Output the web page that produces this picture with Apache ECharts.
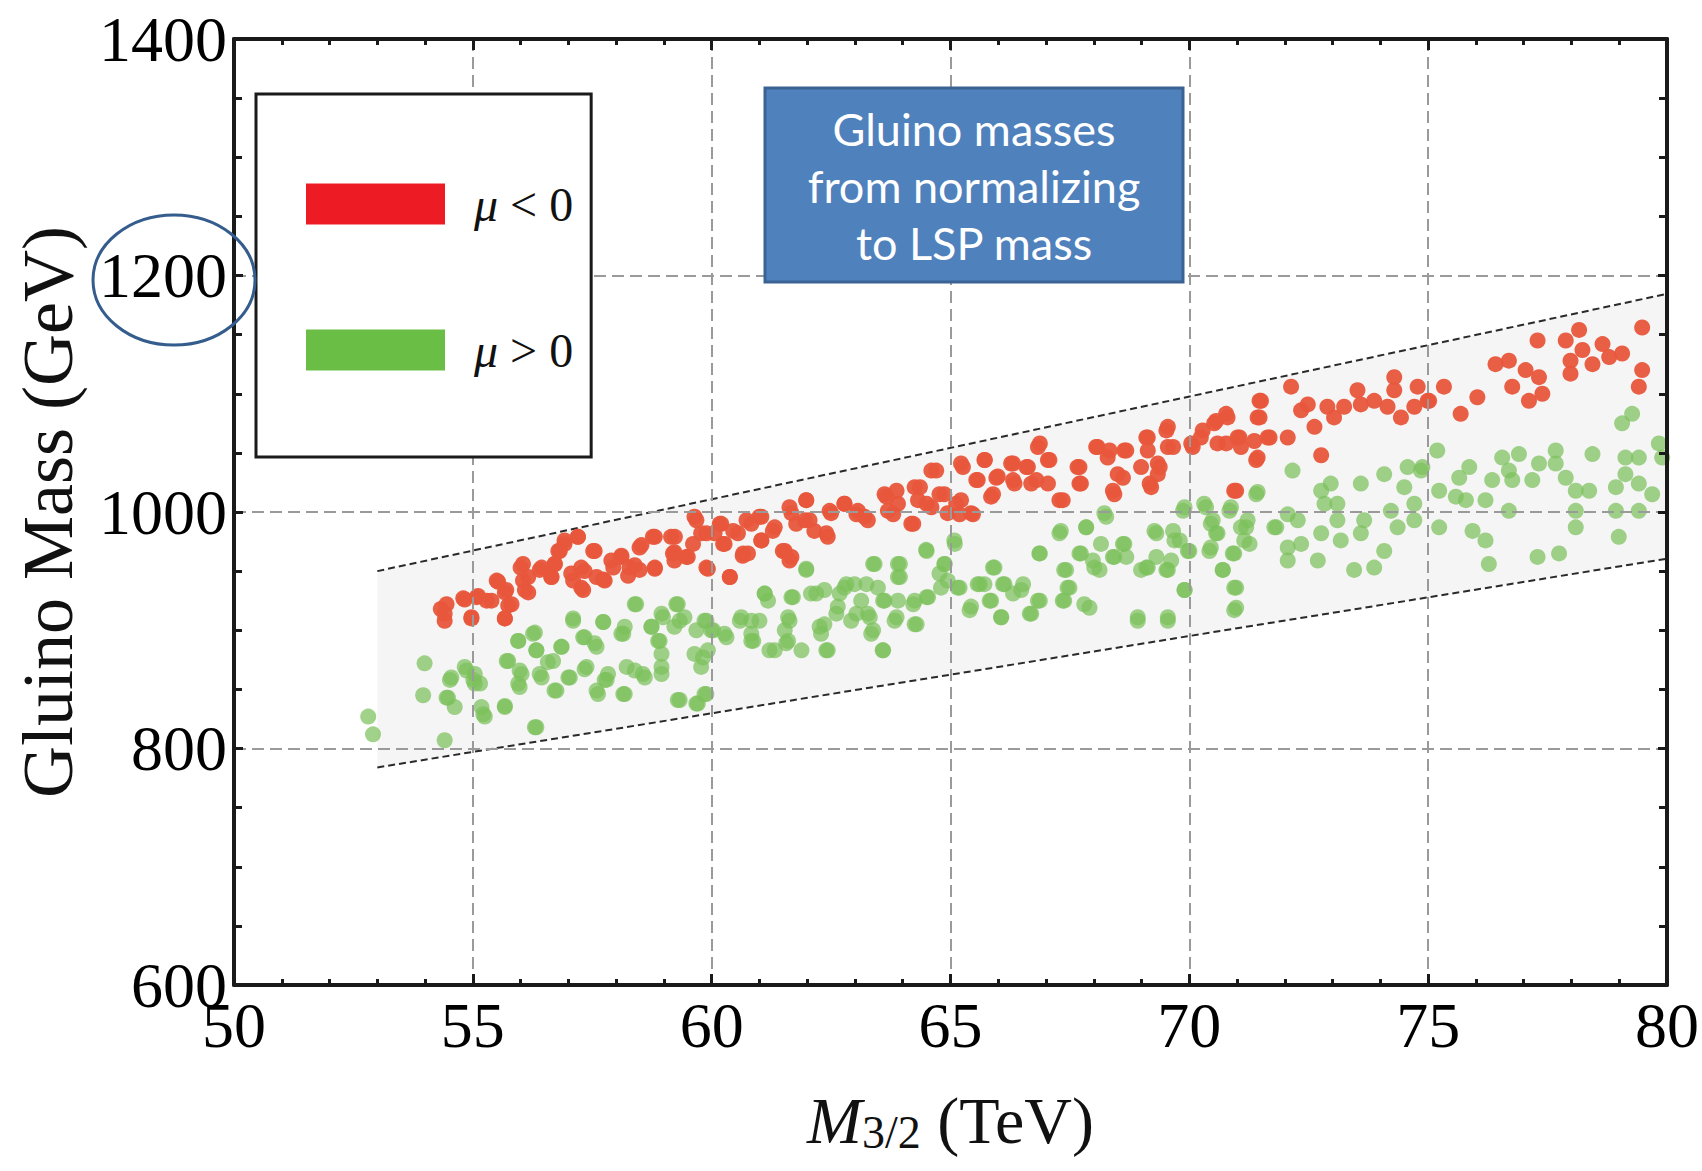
<!DOCTYPE html>
<html>
<head>
<meta charset="utf-8">
<script src="https://cdn.jsdelivr.net/npm/echarts@6.0.0/dist/echarts.min.js"></script>
<style>
html,body{margin:0;padding:0;background:#ffffff;}
#chart{width:1702px;height:1171px;}
</style>
</head>
<body>
<div id="chart"></div>
<script>
// ---------- data ----------
const xRange = [50, 80];
const yRange = [600, 1400];
const seriesNames = ['μ < 0', 'μ > 0'];
const boxLines = ['Gluino masses', 'from normalizing', 'to LSP mass'];

// allowed band (M3/2 in TeV, gluino mass in GeV)
const bandX = [53, 80];
const bandTop = [950, 1184.5];
const bandBottom = [784, 960.5];

// mu < 0 points [M3/2 (TeV), gluino mass (GeV)]
const muNegPoints = [
 [54.33,918],[54.41,908],[54.97,910],[54.83,926],[55.11,929],[55.39,925],[55.67,910],[55.74,921],[55.53,941],[55.7,934],
 [56.0,953],[56.09,934],[56.16,945],[56.44,953],[56.64,945],[56.71,956],[56.82,967],[56.92,976],[57.2,979],[57.06,948],
 [57.27,936],[57.34,950],[57.55,967],[57.73,943],[57.9,959],[58.11,963],[58.25,946],[58.39,955],[58.53,972],[58.81,979],
 [58.81,952],[59.15,979],[59.22,966],[59.22,959],[59.5,962],[59.64,996],[59.78,982],[59.92,952],[60.06,982],[60.2,990],
 [60.27,973],[60.38,945],[60.55,982],[60.65,963],
 [54.41,914],[54.45,922],[54.8,927],[54.97,911],[55.08,928],[55.29,925],[55.5,942],[55.67,932],[55.67,910],[55.81,922],
 [56.05,956],[56.05,942],[56.16,932],[56.4,951],[56.65,945],[56.72,956],[56.79,967],[56.92,973],[57.1,942],[57.2,979],
 [57.27,953],[57.31,934],[57.52,967],[57.59,945],[57.76,942],[57.94,953],[58.11,962],[58.28,953],[58.49,951],[58.49,970],
 [58.77,979],[58.81,953],[59.23,979],[59.19,965],[59.47,962],[59.68,993],[59.61,973],[59.89,953],[59.89,982],[60.17,990],
 [60.24,973],[60.38,945],[60.45,984],[60.66,965],[60.73,993],[61.0,996],[61.04,976],[61.28,984],[61.49,967],[61.63,959],
 [61.63,1004],[61.77,990],[61.98,1010],[62.05,993],[62.4,982],[62.47,1001],[62.78,1007],[63.03,998],
 [60.76,965],[60.83,990],[61.04,996],[61.04,976],[61.32,987],[61.53,967],[61.67,962],[61.67,999],[61.98,1010],[61.95,993],
 [62.15,984],[62.43,979],[62.5,999],[62.78,1007],[63.06,1001],[63.27,993],[63.62,1015],[63.69,1001],[63.9,1007],[64.18,990],
 [64.25,1021],[64.32,1010],[64.6,1035],[64.6,1004],[64.87,1015],[64.94,999],[65.22,1041],[65.22,1010],[65.43,999],[65.57,1027],
 [65.71,1044],[65.85,1013],[65.99,1030],[66.27,1041],[66.34,1024],[66.62,1038],[66.69,1024],[66.83,1055],[67.04,1044],[67.04,1024],
 [67.35,1010],[67.66,1038],[67.73,1024],[68.08,1055],[68.29,1046],[68.43,1015],[68.5,1032],[68.64,1052],[68.99,1038],
 [63.2,996],[63.66,1013],[63.8,998],[63.87,1018],[64.22,990],[64.36,1021],[64.5,1007],[64.7,1035],[64.77,1015],[65.12,1007],
 [65.19,998],[65.26,1038],[65.47,998],[65.54,1027],[65.72,1044],[65.89,1015],[65.96,1029],[66.31,1041],[66.31,1027],[66.59,1038],
 [66.8,1027],[66.87,1058],[67.07,1044],[67.28,1010],[67.7,1038],[67.7,1024],[68.05,1055],[68.33,1052],[68.4,1018],[68.61,1029],
 [68.68,1052],[69.1,1063],[69.17,1024],[69.38,1038],[69.52,1069],[69.66,1055],[70.07,1055],[70.28,1069],[70.56,1077],[70.77,1083],
 [70.77,1058],[70.98,1018],[71.05,1063],[71.4,1044],[71.47,1094],[71.47,1080],[71.68,1063],
 [69.13,1063],[69.13,1052],[69.55,1072],[69.55,1055],[69.34,1041],[69.34,1032],[69.2,1021],[70.04,1058],[70.24,1063],[70.52,1075],
 [70.59,1058],[70.8,1080],[71.01,1063],[70.94,1018],[71.08,1055],[71.43,1080],[71.5,1094],[71.43,1046],[71.36,1060],[71.64,1063],
 [72.06,1063],[72.13,1106],[72.34,1086],[72.48,1091],[72.62,1072],[72.76,1048],[72.89,1089],[73.03,1080],[73.24,1089],[73.52,1103],
 [73.59,1091],[73.87,1094],[74.15,1089],[74.29,1114],[74.29,1103],[74.43,1080],[74.78,1106],[74.71,1089],[74.99,1094],
 [75.02,1094],[75.33,1106],[75.68,1083],[76.03,1097],[76.41,1125],[76.69,1128],[76.76,1106],[77.04,1120],[77.11,1094],[77.29,1145],
 [77.32,1114],[77.39,1100],[77.88,1145],[77.98,1128],[77.98,1117],[78.16,1154],[78.23,1137],[78.44,1125],[78.65,1142],[78.79,1131],
 [79.06,1134],[79.41,1106],[79.48,1120],[79.48,1156]
];

// mu > 0 points [M3/2 (TeV), gluino mass (GeV)]
const muPosPoints = [
 [52.81,827],[52.91,812],[53.99,872],[53.96,845],[54.41,807],[54.55,860],[54.48,843],[54.62,835],[54.83,869],[55.04,863],
 [55.04,855],[55.18,835],[55.25,827],[55.67,836],[55.74,874],[55.95,855],[55.95,891],[56.02,863],[56.3,898],[56.33,883],
 [56.3,818],[56.44,860],[56.57,873],[56.71,849],[56.85,886],[57.03,860],[57.1,910],[57.34,867],[57.34,894],[57.55,889],
 [57.62,846],[57.73,907],[57.76,858],[57.83,863],[58.11,897],[58.18,846],[58.18,903],[58.39,922],[58.39,866],[58.6,860],
 [58.74,903],[58.88,891],[58.95,914],[58.95,880],[58.95,863],[59.22,903],[59.29,841],[59.29,922],[59.43,911],[59.64,880],
 [59.71,838],[59.78,869],[59.85,908],[59.85,846],[59.92,883],[59.99,900],[60.27,897],[60.62,911],[60.83,897],
 [54.45,843],[54.52,858],[54.87,866],[55.01,858],[55.15,855],[55.22,829],[55.67,835],[55.71,874],[55.95,891],[55.98,866],
 [55.98,852],[56.26,897],[56.33,883],[56.4,863],[56.33,818],[56.68,874],[56.75,849],[56.86,886],[57.0,860],[57.1,908],
 [57.31,894],[57.38,869],[57.59,886],[57.59,849],[57.73,907],[57.8,858],[58.15,897],[58.15,846],[58.22,869],[58.42,922],
 [58.56,863],[58.74,903],[58.91,891],[58.95,869],[58.98,911],[59.26,922],[59.33,908],[59.33,841],[59.68,900],[59.68,838],
 [59.82,877],[59.89,908],[59.89,846],[60.03,900],[60.31,894],[60.59,908],[60.87,891],[61.0,908],[61.11,931],[61.21,883],
 [61.56,889],[61.63,908],[61.7,928],[61.98,951],[62.19,931],[62.26,903],[62.4,883],[62.61,914],[62.68,931],[62.82,939],
 [63.03,914],
 [60.83,908],[60.83,891],[61.11,931],[61.18,925],[61.32,883],[61.53,900],[61.6,911],[61.6,891],[61.67,928],[61.88,883],
 [61.98,952],[62.08,931],[62.29,897],[62.36,905],[62.36,934],[62.43,883],[62.64,920],[62.78,936],[62.92,908],[62.99,939],
 [63.13,925],[63.34,897],[63.27,914],[63.41,956],[63.48,936],[63.58,883],[63.62,925],[63.9,925],[63.9,956],[63.9,945],
 [63.83,908],[64.25,925],[64.25,905],[64.49,968],[64.53,928],[64.8,936],[64.87,956],[64.94,942],[65.08,976],[65.15,936],
 [65.43,920],[65.57,939],[65.71,939],[65.85,925],[65.92,953],[66.06,911],[66.13,939],[66.48,934],[66.69,914],[66.83,925],
 [66.86,965],[67.31,984],[67.38,951],[67.38,925],[67.45,936],[67.73,965],[67.84,987],[67.8,922],[68.01,953],[68.15,973],
 [68.22,999],[68.43,962],[68.64,973],[68.92,911],[68.99,951],
 [63.24,939],[63.38,956],[63.31,911],[63.38,900],[63.59,883],[63.59,925],[63.87,911],[63.94,956],[63.94,945],[64.22,922],
 [64.29,905],[64.5,967],[64.5,928],[64.77,948],[64.88,956],[65.09,973],[65.19,936],[65.4,917],[65.61,939],[65.82,925],
 [65.89,953],[66.06,911],[66.1,939],[66.31,931],[66.52,939],[66.66,914],[66.87,925],[66.87,965],[67.28,982],[67.35,925],
 [67.42,951],[67.49,936],[67.7,965],[67.84,987],[67.91,919],[67.98,959],[68.12,951],[68.26,996],[68.4,962],[68.61,973],
 [68.68,962],[68.92,908],[69.1,953],[69.31,982],[69.31,962],[69.52,951],[69.55,908],[69.66,984],[69.8,976],[69.87,1001],
 [69.9,934],[70.0,967],[70.35,1004],[70.42,967],[70.49,993],[70.56,982],[70.7,951],[70.84,1001],[70.91,965],[70.98,936],
 [70.98,919],[71.19,987],[71.26,973],[71.4,1015],[71.82,987],
 [69.55,911],[69.27,984],[69.13,953],[69.55,951],[69.62,959],[69.69,976],[69.9,1004],[69.9,934],[69.97,967],[70.31,1007],
 [70.45,990],[70.45,970],[70.59,982],[70.7,951],[70.87,1004],[70.94,936],[70.94,917],[70.94,965],[71.08,987],[71.15,976],
 [71.22,993],[71.43,1017],[71.78,987],[72.06,998],[72.06,970],[72.06,959],[72.16,1035],[72.27,993],[72.34,973],[72.69,959],
 [72.76,982],[72.76,1018],[72.83,1007],[72.96,1024],[73.1,1007],[73.17,976],[73.1,993],[73.45,951],[73.59,1024],[73.59,982],
 [73.66,993],[73.87,953],[74.08,1032],[74.08,967],[74.22,1001],[74.36,987],[74.5,1021],[74.57,1038],[74.71,1007],[74.71,993],
 [74.85,1035],
 [75.19,1052],[74.88,1038],[75.23,1018],[75.23,987],[75.65,1029],[75.58,1013],[75.86,1038],[75.79,1010],[75.93,984],[76.2,976],
 [76.2,1010],[76.27,956],[76.34,1027],[76.55,1046],[76.69,1035],[76.76,1027],[76.69,1001],[76.9,1049],[77.18,1027],[77.32,1041],
 [77.29,962],[77.67,1052],[77.67,1041],[77.74,965],[77.88,1029],[78.09,1018],[78.09,1001],[78.09,987],[78.37,1018],[78.44,1049],
 [78.93,1021],[78.93,1001],[78.99,979],[79.13,1046],[79.13,1032],[79.06,1075],[79.27,1083],[79.41,1046],[79.41,1024],[79.41,1001],
 [79.69,1015],[79.83,1058],[79.9,1046]
];

// ---------- chart ----------
const SERIF = '"Liberation Serif", "DejaVu Serif", serif';
const AXC = '#1a1a1a';

function axisBase(isX, main) {
  return {
    type: 'value',
    min: isX ? xRange[0] : yRange[0],
    max: isX ? xRange[1] : yRange[1],
    interval: isX ? 5 : 200,
    z: 10,
    axisLine: { show: true, onZero: false, lineStyle: { color: AXC, width: 4 } },
    axisTick: { show: true, inside: true, length: isX ? 11 : 9, lineStyle: { color: AXC, width: 3 } },
    minorTick: { show: true, splitNumber: isX ? 5 : 4, length: isX ? 6 : 8, lineStyle: { color: AXC, width: 3 } },
    splitLine: { show: main, lineStyle: { color: '#9a9a9a', width: 2, type: [12, 6] } },
    axisLabel: main ? {
      show: true, color: '#000', fontFamily: SERIF, fontSize: 64, margin: isX ? 8 : 7,
      formatter: function (v) { return String(v); }
    } : { show: false }
  };
}

const xMain = Object.assign(axisBase(true, true), {
  position: 'bottom',
  name: '{m|M}{s|3/2}{t| (TeV)}',
  nameLocation: 'middle',
  nameGap: 100,
  nameTextStyle: {
    color: '#111',
    rich: {
      m: { fontFamily: SERIF, fontStyle: 'italic', fontSize: 66, lineHeight: 70, color: '#111' },
      s: { fontFamily: SERIF, fontSize: 46, lineHeight: 26, verticalAlign: 'bottom', color: '#111' },
      t: { fontFamily: SERIF, fontSize: 66, lineHeight: 70, color: '#111' }
    }
  }
});
const xTop = Object.assign(axisBase(true, false), { position: 'top' });
const yMain = Object.assign(axisBase(false, true), {
  position: 'left',
  name: 'Gluino Mass (GeV)',
  nameLocation: 'middle',
  nameGap: 150,
  nameTextStyle: { fontFamily: SERIF, fontSize: 72, color: '#111' }
});
const yRight = Object.assign(axisBase(false, false), { position: 'right' });

const chart = echarts.init(document.getElementById('chart'), null, { renderer: 'svg' });

const option = {
  backgroundColor: '#ffffff',
  animation: false,
  grid: { left: 234, right: 34, top: 39, bottom: 186, containLabel: false },
  xAxis: [xMain, xTop],
  yAxis: [yMain, yRight],
  legend: {
    orient: 'vertical',
    left: 256, top: 94,
    padding: [86, 18, 83, 50],
    itemGap: 98,
    itemWidth: 139, itemHeight: 41,
    icon: 'rect',
    borderColor: AXC, borderWidth: 3, borderRadius: 0,
    backgroundColor: '#ffffff',
    selectedMode: false,
    z: 20,
    data: [
      { name: seriesNames[0], itemStyle: { color: '#ED1C24', opacity: 1 } },
      { name: seriesNames[1], itemStyle: { color: '#6ABD45', opacity: 1 } }
    ],
    formatter: function (n) { return '{i|μ}' + n.slice(1); },
    textStyle: {
      fontFamily: SERIF, fontSize: 48, color: '#111', padding: [0, 0, 0, 24],
      rich: { i: { fontFamily: SERIF, fontStyle: 'italic', fontSize: 48, color: '#111' } }
    }
  },
  series: [
    {
      type: 'custom',
      name: 'band',
      silent: true,
      z: 1,
      data: bandX.map(function (x, i) { return [x, bandTop[i], bandBottom[i]]; }),
      encode: { x: 0, y: 1 },
      renderItem: function (params, api) {
        if (params.dataIndex !== 0) return null;
        const pts = [
          api.coord([bandX[0], bandTop[0]]),
          api.coord([bandX[1], bandTop[1]]),
          api.coord([bandX[1], bandBottom[1]]),
          api.coord([bandX[0], bandBottom[0]])
        ];
        return { type: 'polygon', shape: { points: pts }, style: { fill: 'rgba(0,0,0,0.04)', stroke: 'none' } };
      }
    },
    {
      type: 'line', name: 'upper edge', silent: true, symbol: 'none', z: 2,
      data: bandX.map(function (x, i) { return [x, bandTop[i]]; }),
      lineStyle: { color: '#2a2a2a', width: 2, type: [7, 4] }
    },
    {
      type: 'line', name: 'lower edge', silent: true, symbol: 'none', z: 2,
      data: bandX.map(function (x, i) { return [x, bandBottom[i]]; }),
      lineStyle: { color: '#2a2a2a', width: 2, type: [7, 4] }
    },
    {
      type: 'scatter', name: seriesNames[0], z: 3,
      symbolSize: 16,
      itemStyle: { color: '#E8563B', opacity: 0.95 },
      data: muNegPoints
    },
    {
      type: 'scatter', name: seriesNames[1], z: 3,
      symbolSize: 16,
      itemStyle: { color: '#7CC05C', opacity: 0.72 },
      data: muPosPoints
    }
  ],
  graphic: [
    {
      type: 'rect', z: 30,
      shape: { x: 765, y: 88, width: 418, height: 194 },
      style: { fill: '#4F81BD', stroke: '#3A6394', lineWidth: 3 }
    },
    {
      type: 'text', z: 31,
      x: 974, y: 186,
      style: {
        text: boxLines.join('\n'),
        fill: '#ffffff',
        fontFamily: 'Lato, "Open Sans", sans-serif',
        fontSize: 45,
        lineHeight: 57,
        align: 'center', verticalAlign: 'middle',
        textAlign: 'center', textVerticalAlign: 'middle'
      }
    },
    {
      type: 'ellipse', z: 30,
      shape: { cx: 174, cy: 280, rx: 81, ry: 65 },
      style: { fill: 'none', stroke: '#345C8C', lineWidth: 3 }
    }
  ]
};
chart.setOption(option);
</script>
</body>
</html>
